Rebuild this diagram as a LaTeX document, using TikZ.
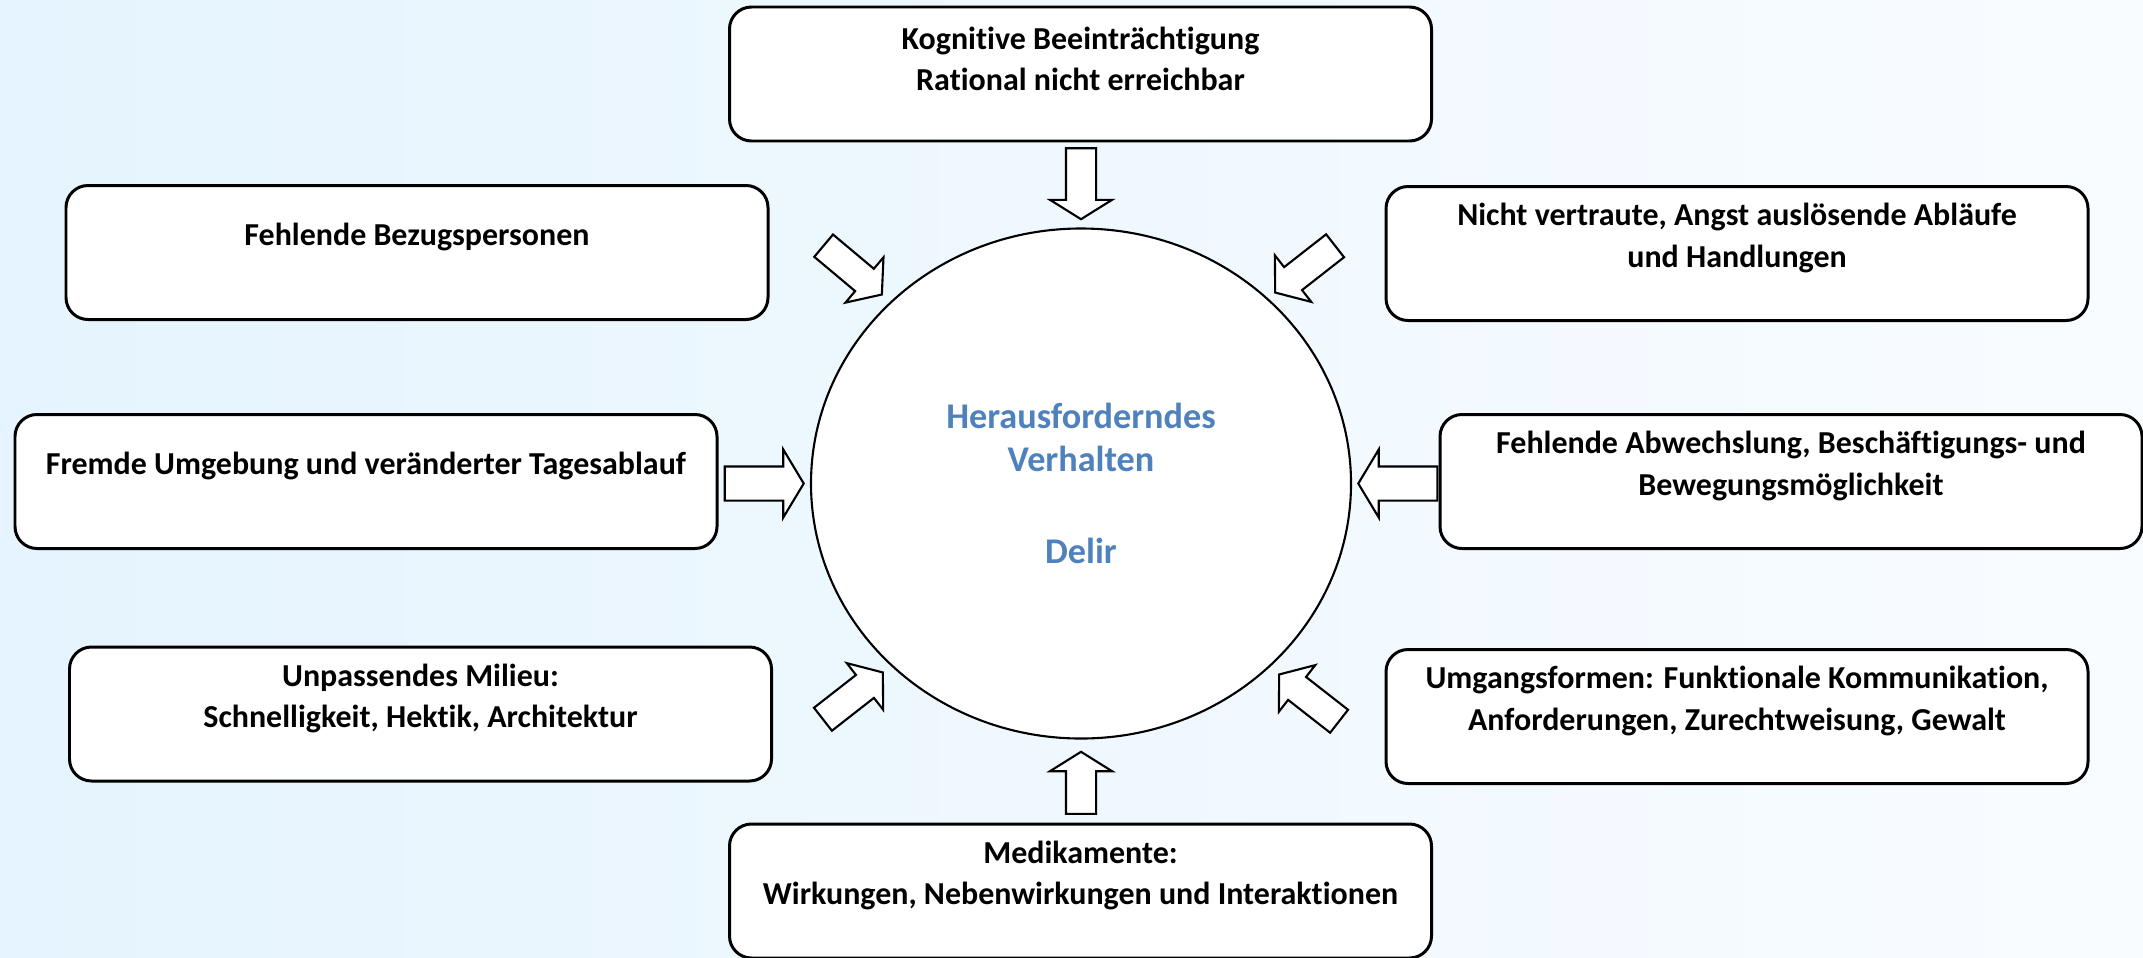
\documentclass[tikz,border=0pt]{standalone}
\usepackage{fontspec}
\setmainfont{Carlito}[Ligatures=NoCommon]
\usetikzlibrary{shapes.geometric,shapes.arrows,calc}
\definecolor{bgleft}{HTML}{E5F4FE}
\definecolor{bgright}{HTML}{F9FCFF}
\definecolor{titleblue}{HTML}{4F81BD}
\tikzset{
  factor/.style={draw, line width=0.85pt, rounded corners=0.22cm, fill=white, minimum width=7.02cm, minimum height=1.34cm, inner sep=0pt},
  factortext/.style={font=\fontsize{9.1}{11.7}\selectfont\bfseries, align=center, yshift=0.155cm},
  blockarrow/.style={single arrow, draw, fill=white, line width=0.6pt, inner xsep=0pt, anchor=tip,
    minimum height=0.76cm, inner ysep=0.135cm, single arrow head extend=0.15cm, single arrow tip angle=105},
  vertarrow/.style={blockarrow, inner ysep=0.14cm, single arrow head extend=0.16cm, single arrow tip angle=116},
  horzarrow/.style={blockarrow, minimum height=0.79cm, inner ysep=0.16cm, single arrow head extend=0.17cm, single arrow tip angle=118}
}
\begin{document}
\begin{tikzpicture}
  \shade[left color=bgleft, right color=bgright] (0,0) rectangle (21.43,9.57);
  \useasboundingbox (0,0) rectangle (21.43,9.57);

  % influencing factors
  \node[factor, label={[factortext]center:{Kognitive Beeinträchtigung\\Rational nicht erreichbar}}] (kog) at (10.805,8.83) {};
  \node[factor, label={[factortext]center:{Fehlende Bezugspersonen}}] (bez) at (4.17,7.045) {};
  \node[factor, label={[factortext]center:{Nicht vertraute, Angst auslösende Abläufe\\und Handlungen}}] (nic) at (17.37,7.035) {};
  \node[factor, label={[factortext]center:{Fremde Umgebung und veränderter Tagesablauf}}] (fre) at (3.66,4.755) {};
  \node[factor, label={[factortext]center:{Fehlende Abwechslung, Beschäftigungs- und\\Bewegungsmöglichkeit}}] (abw) at (17.91,4.755) {};
  \node[factor, label={[factortext]center:{Unpassendes Milieu:\\Schnelligkeit, Hektik, Architektur}}] (mil) at (4.205,2.43) {};
  \node[factor, label={[factortext]center:{Umgangsformen: Funktionale Kommunikation,\\Anforderungen, Zurechtweisung, Gewalt}}] (umg) at (17.37,2.405) {};
  \node[factor, label={[factortext]center:{Medikamente:\\Wirkungen, Nebenwirkungen und Interaktionen}}] (med) at (10.805,0.66) {};

  % centre
  \node[draw, ellipse, line width=0.6pt, fill=white, minimum width=5.40cm, minimum height=5.10cm, inner sep=0pt,
        font=\fontsize{10.3}{12.2}\selectfont\bfseries, text=titleblue, align=center] (circ) at (10.81,4.735)
        {Herausforderndes\\Verhalten\\[14pt]Delir};

  % block arrows towards the centre
  \node[vertarrow, minimum height=0.71cm, rotate=-90] (aKog) at ($(circ.north)+(0,0.07)$) {};
  \node[vertarrow, minimum height=0.62cm, rotate=90] (aMed) at ($(circ.south)+(0,-0.11)$) {};
  \node[horzarrow, rotate=0] (aFre) at ($(circ.west)+(-0.05,0)$) {};
  \node[horzarrow, rotate=180] (aAbw) at ($(circ.east)+(0.05,0)$) {};
  \node[blockarrow, rotate=-40] (aBez) at ($(circ.135)+(-0.12,0.02)$) {};
  \node[blockarrow, rotate=-142] (aNic) at ($(circ.45)+(0.07,0.04)$) {};
  \node[blockarrow, rotate=38] (aMil) at ($(circ.225)+(-0.11,-0.02)$) {};
  \node[blockarrow, rotate=142] (aUmg) at ($(circ.315)+(0.11,-0.04)$) {};
\end{tikzpicture}
\end{document}
